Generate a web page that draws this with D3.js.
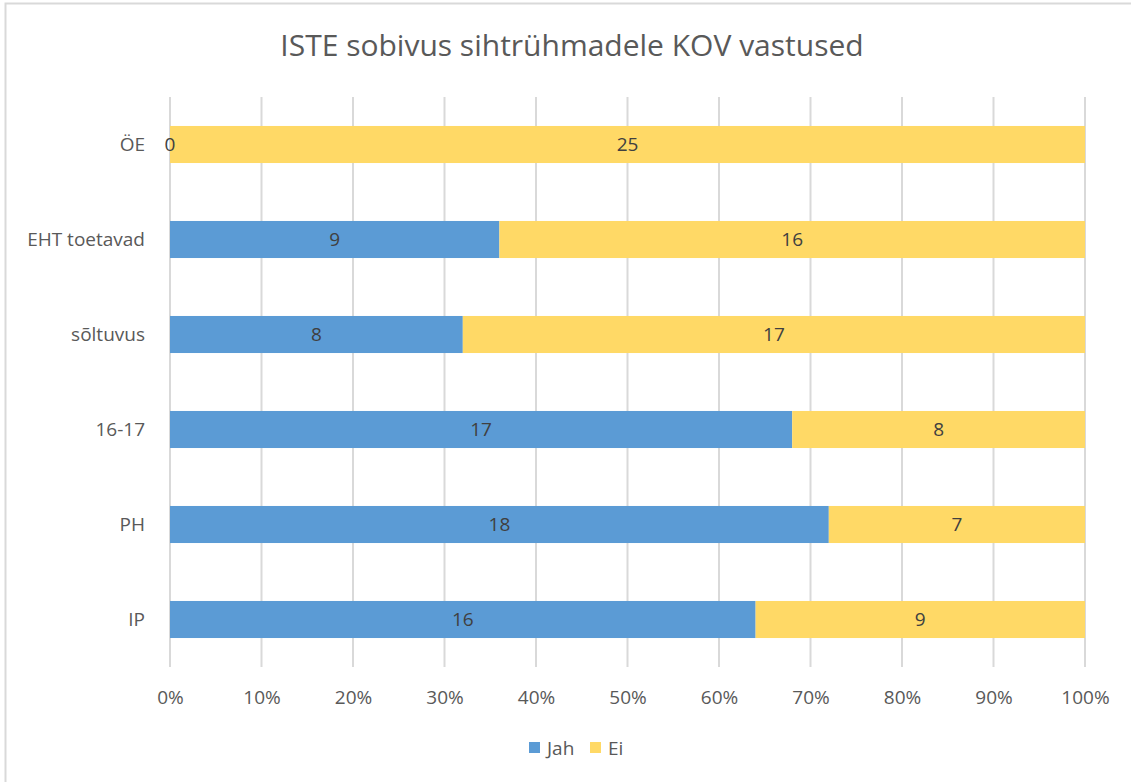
<!DOCTYPE html>
<html>
<head>
<meta charset="utf-8">
<script src="https://cdn.jsdelivr.net/npm/d3@7"></script>
<style>
  body { margin: 0; background: #fff; }
  text { font-family: "Open Sans", "Liberation Sans", sans-serif; }
</style>
</head>
<body>
<div id="chart"></div>
<script>
const categories = ["ÖE", "EHT toetavad", "sõltuvus", "16-17", "PH", "IP"];
const jahValues = [0, 9, 8, 17, 18, 16];
const eiValues = [25, 16, 17, 8, 7, 9];
const seriesNames = ["Jah", "Ei"];
const seriesColors = ["#5B9BD5", "#FFD966"];
const xTicks = [0, 0.1, 0.2, 0.3, 0.4, 0.5, 0.6, 0.7, 0.8, 0.9, 1];

const width = 1131, height = 782;
const margin = { top: 97, right: 46, bottom: 115, left: 170 };

const svg = d3.select("#chart").append("svg")
  .attr("width", width)
  .attr("height", height);

// chart border
svg.append("rect")
  .attr("x", 5.5).attr("y", 3.5)
  .attr("width", 1140).attr("height", 800)
  .attr("fill", "#fff")
  .attr("stroke", "#D9D9D9")
  .attr("stroke-width", 2);

svg.append("text")
  .attr("x", 572)
  .attr("y", 56)
  .attr("text-anchor", "middle")
  .attr("fill", "#595959")
  .style("font-size", "30px")
  .text("ISTE sobivus sihtrühmadele KOV vastused");

const x = d3.scaleLinear()
  .domain([0, 1])
  .range([margin.left, width - margin.right]);

const y = d3.scaleBand()
  .domain(categories)
  .range([margin.top, height - margin.bottom])
  .paddingInner(0.61)
  .paddingOuter(0.305);

// gridlines
svg.append("g")
  .selectAll("line")
  .data(xTicks)
  .join("line")
  .attr("x1", d => x(d)).attr("x2", d => x(d))
  .attr("y1", margin.top).attr("y2", height - margin.bottom)
  .attr("stroke", "#D9D9D9")
  .attr("stroke-width", 2);

// x axis labels
const xAxis = svg.append("g")
  .attr("transform", `translate(0,${height - margin.bottom + 20})`)
  .call(d3.axisBottom(x).tickValues(xTicks).tickFormat(d3.format(".0%")).tickSize(0));
xAxis.select(".domain").remove();
xAxis.selectAll("text")
  .attr("fill", "#595959")
  .style("font-size", "19px")
  .style("font-family", "'Open Sans', sans-serif");

// y axis labels
const yAxis = svg.append("g")
  .attr("transform", `translate(${margin.left - 22},0)`)
  .call(d3.axisLeft(y).tickSize(0));
yAxis.select(".domain").remove();
yAxis.selectAll("text")
  .attr("fill", "#595959")
  .attr("dy", "0.35em")
  .style("font-size", "19px")
  .style("font-family", "'Open Sans', sans-serif");

const rows = categories.map((c, i) => ({ cat: c, Jah: jahValues[i], Ei: eiValues[i] }));
const stacked = d3.stack()
  .keys(seriesNames)
  .offset(d3.stackOffsetExpand)(rows);

const layers = svg.append("g")
  .selectAll("g")
  .data(stacked)
  .join("g")
  .attr("fill", (d, i) => seriesColors[i]);

layers.selectAll("rect")
  .data(d => d)
  .join("rect")
  .attr("x", d => x(d[0]))
  .attr("y", d => y(d.data.cat))
  .attr("width", d => x(d[1]) - x(d[0]))
  .attr("height", y.bandwidth());

// data labels
stacked.forEach(layer => {
  svg.append("g")
    .selectAll("text")
    .data(layer)
    .join("text")
    .attr("x", d => (x(d[0]) + x(d[1])) / 2)
    .attr("y", d => y(d.data.cat) + y.bandwidth() / 2)
    .attr("dy", "0.35em")
    .attr("text-anchor", "middle")
    .attr("fill", "#404040")
    .style("font-size", "19px")
    .text(d => d.data[layer.key]);
});

// legend
const legend = svg.append("g")
  .attr("transform", `translate(529,742)`);
const legendOffsets = [0, 61];
seriesNames.forEach((name, i) => {
  const g = legend.append("g").attr("transform", `translate(${legendOffsets[i]},0)`);
  g.append("rect")
    .attr("width", 11).attr("height", 11)
    .attr("fill", seriesColors[i]);
  g.append("text")
    .attr("x", 18).attr("y", 6)
    .attr("dy", "0.35em")
    .attr("fill", "#595959")
    .style("font-size", "19px")
    .text(name);
});
</script>
</body>
</html>
